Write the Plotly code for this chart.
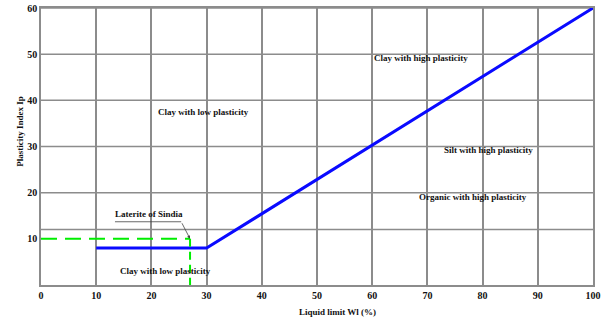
import plotly.graph_objects as go

# Data
aline_x = [10, 30, 100]
aline_y = [8, 8, 60]
laterite_h_x = [0, 27]
laterite_h_y = [10, 10]
laterite_v_x = [27, 27]
laterite_v_y = [10, 0]
laterite_point = (27, 10)
laterite_label = "Laterite of Sindia"
laterite_label_pos = (19.6, 15.4)
leader_x = [13.4, 25.4]
leader_y = [13.7, 13.7]
x_ticks = [0, 10, 20, 30, 40, 50, 60, 70, 80, 90, 100]
y_ticks = [10, 20, 30, 40, 50, 60]
y_grid = [12, 20, 30, 40, 50, 60]
zone_labels = ["Clay with high plasticity", "Clay with low plasticity", "Silt with high plasticity",
               "Organic with high plasticity", "Clay with low plasticity"]
zone_x = [68.8, 29.4, 81.0, 78.2, 22.5]
zone_y = [49.2, 37.4, 29.2, 19.0, 3.0]

FONT = "Liberation Serif"
fig = go.Figure()
fig.add_trace(go.Scatter(x=aline_x, y=aline_y, mode="lines",
                         line=dict(color="#0a0aff", width=3), showlegend=False, hoverinfo="skip"))
fig.add_trace(go.Scatter(x=laterite_h_x, y=laterite_h_y, mode="lines",
                         line=dict(color="#00ee00", width=2, dash="16px,8px"), showlegend=False))
fig.add_trace(go.Scatter(x=laterite_v_x, y=laterite_v_y, mode="lines",
                         line=dict(color="#00ee00", width=2, dash="8px,5px"), showlegend=False))
fig.add_trace(go.Scatter(x=leader_x, y=leader_y, mode="lines",
                         line=dict(color="#444", width=0.8), showlegend=False))

shapes = []
for g in y_grid:
    shapes.append(dict(type="line", xref="x", yref="y", x0=0, x1=100, y0=g, y1=g,
                       line=dict(color="#8c8c8c", width=1.5), layer="below"))
fig.update_layout(shapes=shapes)

for t, x, y in zip(zone_labels, zone_x, zone_y):
    fig.add_annotation(x=x, y=y, text="<b>" + t + "</b>", showarrow=False,
                       font=dict(family=FONT, size=9, color="#111"))

fig.add_annotation(x=laterite_label_pos[0], y=laterite_label_pos[1], text="<b>" + laterite_label + "</b>",
                   showarrow=False, font=dict(family=FONT, size=9, color="#111"))
fig.add_annotation(x=laterite_point[0], y=laterite_point[1], ax=leader_x[1], ay=leader_y[1],
                   axref="x", ayref="y", text="", showarrow=True, arrowhead=2, arrowsize=0.8,
                   arrowwidth=0.8, arrowcolor="#444", standoff=0)

fig.add_annotation(x=0.537, y=-0.072, xref="paper", yref="paper", text="<b>Liquid limit Wl (%)</b>",
                   showarrow=False, yanchor="top", font=dict(family=FONT, size=9, color="#111"))
fig.add_annotation(x=-0.05, y=0.555, xref="paper", yref="paper", text="<b>Plasticity Index Ip</b>",
                   showarrow=False, textangle=-90, font=dict(family=FONT, size=9, color="#111"))

fig.update_xaxes(range=[0, 100], tickvals=x_ticks, ticktext=["<b>%d</b>" % v for v in x_ticks],
                 showgrid=True, gridcolor="#8c8c8c", gridwidth=1.5, zeroline=False,
                 showline=True, linecolor="#8c8c8c", linewidth=1.5, mirror=True, automargin=False,
                 tickfont=dict(family=FONT, size=10, color="#111"), ticks="")
fig.update_yaxes(range=[0, 60], tickvals=y_ticks, ticktext=["<b>%d</b>" % v for v in y_ticks],
                 showgrid=False, zeroline=False, automargin=False,
                 showline=True, linecolor="#8c8c8c", linewidth=1.5, mirror=True,
                 tickfont=dict(family=FONT, size=10, color="#111"), ticks="")

fig.update_layout(width=608, height=320, margin=dict(l=41, r=15, t=8, b=35),
                  plot_bgcolor="white", paper_bgcolor="white", hovermode=False)
fig.write_html("out.html", config={"displayModeBar": False},
               post_script="document.body.style.margin='0';")
